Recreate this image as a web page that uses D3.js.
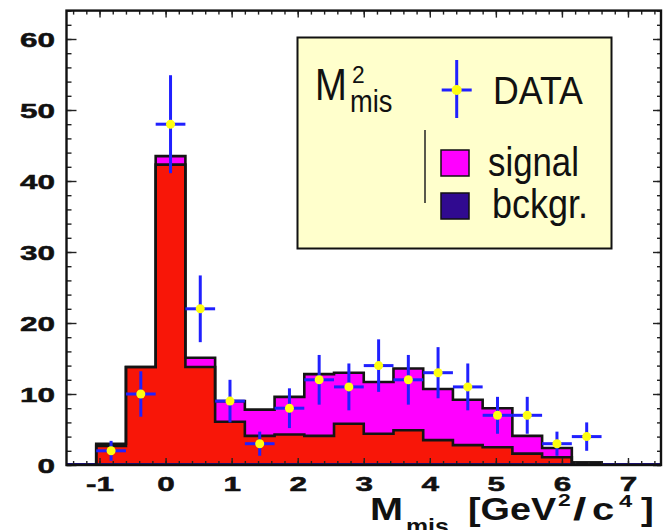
<!DOCTYPE html>
<html>
<head>
<meta charset="utf-8">
<script src="https://cdn.jsdelivr.net/npm/d3@7"></script>
<style>
  body { margin: 0; background: #fff; }
  svg { display: block; }
  text { font-family: "Liberation Sans", Arial, Helvetica, sans-serif; fill: #111; }
</style>
</head>
<body>
<div id="chart"></div>
<script>
// histogram bins (GeV^2/c^4), width 0.45
const binCenters = [-0.825, -0.375, 0.075, 0.525, 0.975, 1.425, 1.875, 2.325, 2.775,
                    3.225, 3.675, 4.125, 4.575, 5.025, 5.475, 5.925, 6.375];
const binWidth = 0.45;
// red part (drawn at the bottom of the stack)
const bkgValues = [2.7, 13.8, 42.3, 13.8, 6.1, 4.1, 4.3, 4.1, 5.8, 4.4, 4.9, 3.5, 2.8, 2.5, 1.6, 1.1, 0.35];
// magenta part on top
const signalValues = [0.3, 0, 1.2, 1.3, 2.9, 3.7, 5.3, 8.7, 7.2, 7.3, 8.7, 7.2, 6.4, 5.5, 2.5, 1.3, 0];
// data points and their errors
const dataCounts = [2, 10, 48, 22, 9, 3, 8, 12, 11, 14, 12, 13, 11, 7, 7, 3, 4];
const dataErrors = [1.4, 3.2, 6.9, 4.7, 3.0, 1.7, 2.8, 3.5, 3.3, 3.7, 3.5, 3.6, 3.3, 2.6, 2.6, 1.7, 2.0];

const xTicks = [-1, 0, 1, 2, 3, 4, 5, 6, 7];
const yTicks = [0, 10, 20, 30, 40, 50, 60];
const legendLabels = ["DATA", "signal", "bckgr."];

const width = 663, height = 530;
const svg = d3.select("#chart").append("svg")
    .attr("width", width)
    .attr("height", height)
    .attr("viewBox", [0, 0, width, height]);

const x = d3.scaleLinear().domain([-1.5, 7.5]).range([66.5, 661]);
const y = d3.scaleLinear().domain([0, 64]).range([465, 10.6]);

const rows = binCenters.map((c, i) => ({c: c, bkg: bkgValues[i], sig: signalValues[i]}));
const stack = d3.stack().keys(["bkg", "sig"]);
const layers = stack(rows);
const colors = {bkg: "#f81608", sig: "#ff00ff"};

// step points for each layer
function stepPts(layer) {
    let pts = [];
    layer.forEach(d => {
        pts.push({x: d.data.c - binWidth / 2, y0: d[0], y1: d[1]});
        pts.push({x: d.data.c + binWidth / 2, y0: d[0], y1: d[1]});
    });
    return pts;
}

const area = d3.area()
    .x(d => x(d.x))
    .y0(d => y(d.y0))
    .y1(d => y(d.y1));

svg.selectAll("path.layer")
    .data(layers)
    .join("path")
    .attr("class", "layer")
    .attr("fill", d => colors[d.key])
    .attr("d", d => area(stepPts(d)));

// navy zero line of the histogram
svg.append("line")
    .attr("x1", x(-1.5)).attr("x2", x(7.5))
    .attr("y1", y(0) - 1).attr("y2", y(0) - 1)
    .attr("stroke", "#1a1080").attr("stroke-width", 2);

// outlines
const line = d3.line().x(d => x(d[0])).y(d => y(d[1]));
function outline(layer) {
    let pts = [[layer[0].data.c - binWidth / 2, 0]];
    layer.forEach(d => {
        pts.push([d.data.c - binWidth / 2, d[1]]);
        pts.push([d.data.c + binWidth / 2, d[1]]);
    });
    pts.push([layer[layer.length - 1].data.c + binWidth / 2, 0]);
    return pts;
}
svg.selectAll("path.outline")
    .data(layers)
    .join("path")
    .attr("class", "outline")
    .attr("fill", "none")
    .attr("stroke", "#141414")
    .attr("stroke-width", 2.6)
    .attr("stroke-linejoin", "miter")
    .attr("d", d => line(outline(d)));

// axes: ticks on all four sides
function styleAxis(g) {
    g.select(".domain").remove();
    g.selectAll(".tick line").attr("stroke", "#222").attr("stroke-width", 1.4);
}
const minorX = x.ticks(45), minorY = y.ticks(32);

svg.append("g").attr("transform", `translate(0,${y(0)})`)
    .call(d3.axisBottom(x).tickValues(minorX).tickSize(-4).tickFormat(""))
    .call(styleAxis);
const xAxis = svg.append("g").attr("transform", `translate(0,${y(0)})`)
    .call(d3.axisBottom(x).tickValues(xTicks).tickSize(-7).tickPadding(11).tickFormat(d => String(d)))
    .call(styleAxis);
svg.append("g").attr("transform", `translate(0,${y(64)})`)
    .call(d3.axisTop(x).tickValues(minorX).tickSize(-4).tickFormat(""))
    .call(styleAxis);
svg.append("g").attr("transform", `translate(0,${y(64)})`)
    .call(d3.axisTop(x).tickValues(xTicks).tickSize(-7).tickFormat(""))
    .call(styleAxis);

svg.append("g").attr("transform", `translate(${x(-1.5)},0)`)
    .call(d3.axisLeft(y).tickValues(minorY).tickSize(-5).tickFormat(""))
    .call(styleAxis);
const yAxis = svg.append("g").attr("transform", `translate(${x(-1.5)},0)`)
    .call(d3.axisLeft(y).tickValues(yTicks).tickSize(-10).tickFormat(d => String(d)))
    .call(styleAxis);
svg.append("g").attr("transform", `translate(${x(7.5)},0)`)
    .call(d3.axisRight(y).tickValues(minorY).tickSize(-4).tickFormat(""))
    .call(styleAxis);
svg.append("g").attr("transform", `translate(${x(7.5)},0)`)
    .call(d3.axisRight(y).tickValues(yTicks).tickSize(-8).tickFormat(""))
    .call(styleAxis);

const labelScale = 1.5;
xAxis.selectAll(".tick text")
    .attr("font-size", 21).attr("font-weight", "bold")
    .attr("font-family", "Liberation Sans, Arial, sans-serif")
    .attr("fill", "#111").attr("stroke", "#111").attr("stroke-width", 0.5)
    .attr("transform", `scale(${labelScale},1)`);
yAxis.selectAll(".tick text")
    .attr("font-size", 21).attr("font-weight", "bold")
    .attr("font-family", "Liberation Sans, Arial, sans-serif")
    .attr("fill", "#111").attr("stroke", "#111").attr("stroke-width", 0.5)
    .attr("x", -11.5 / labelScale)
    .attr("dy", "0.36em")
    .attr("transform", `scale(${labelScale},1)`);

// frame
svg.append("rect")
    .attr("x", x(-1.5)).attr("y", y(64))
    .attr("width", x(7.5) - x(-1.5)).attr("height", y(0) - y(64))
    .attr("fill", "none").attr("stroke", "#111").attr("stroke-width", 2.4);

// data points with error bars
const pts = svg.append("g").selectAll("g")
    .data(binCenters.map((c, i) => ({c: c, v: dataCounts[i], e: dataErrors[i]})))
    .join("g");
pts.append("line")
    .attr("x1", d => x(d.c - binWidth / 2)).attr("x2", d => x(d.c + binWidth / 2))
    .attr("y1", d => y(d.v)).attr("y2", d => y(d.v))
    .attr("stroke", "#2020ff").attr("stroke-width", 3);
pts.append("line")
    .attr("x1", d => x(d.c)).attr("x2", d => x(d.c))
    .attr("y1", d => y(d.v - d.e)).attr("y2", d => y(d.v + d.e))
    .attr("stroke", "#2020ff").attr("stroke-width", 3);
pts.append("circle")
    .attr("cx", d => x(d.c)).attr("cy", d => y(d.v))
    .attr("r", 4.5).attr("fill", "#ffff10");

// x axis title, pieces placed one by one
const titleParts = [
    {t: "M", x: 370, y: 520, s: 32, k: 1.24},
    {t: "mis", x: 406, y: 534, s: 22, k: 1.13},
    {t: "[GeV", x: 468, y: 520, s: 32, k: 1.18},
    {t: "2", x: 558, y: 506, s: 17, k: 1.35},
    {t: "/", x: 573, y: 520, s: 32, k: 1.5},
    {t: "c", x: 592, y: 520, s: 32, k: 1.25},
    {t: "4", x: 619, y: 507, s: 17, k: 1.4},
    {t: "]", x: 641, y: 520, s: 32, k: 1.2}
];
svg.append("g").selectAll("text")
    .data(titleParts)
    .join("text")
    .attr("transform", d => `translate(${d.x},${d.y}) scale(${d.k},1)`)
    .attr("font-size", d => d.s)
    .attr("font-weight", "bold")
    .text(d => d.t);

// legend
const leg = svg.append("g");
leg.append("rect")
    .attr("x", 297.5).attr("y", 37.5).attr("width", 314).attr("height", 211)
    .attr("fill", "#ffffcc").attr("stroke", "#111").attr("stroke-width", 2);

const legTexts = [
    {t: "M", x: 315, y: 100, s: 45, k: 0.85},
    {t: "2", x: 352, y: 83, s: 24, k: 0.95},
    {t: "mis", x: 350, y: 112, s: 31, k: 0.88},
    {t: legendLabels[0], x: 493, y: 104, s: 38, k: 0.94},
    {t: legendLabels[1], x: 488, y: 176, s: 40, k: 0.87},
    {t: legendLabels[2], x: 492, y: 218, s: 40, k: 0.9}
];
leg.selectAll("text")
    .data(legTexts)
    .join("text")
    .attr("transform", d => `translate(${d.x},${d.y}) scale(${d.k},1)`)
    .attr("font-size", d => d.s)
    .text(d => d.t);

leg.append("line").attr("x1", 456.7).attr("x2", 456.7).attr("y1", 60).attr("y2", 118)
    .attr("stroke", "#2020ff").attr("stroke-width", 3);
leg.append("line").attr("x1", 441.7).attr("x2", 471.7).attr("y1", 90).attr("y2", 90)
    .attr("stroke", "#2020ff").attr("stroke-width", 3);
leg.append("circle").attr("cx", 456.7).attr("cy", 90).attr("r", 5).attr("fill", "#ffff10");

leg.append("line").attr("x1", 425).attr("x2", 425).attr("y1", 130).attr("y2", 203)
    .attr("stroke", "#222").attr("stroke-width", 1.5);
leg.append("rect").attr("x", 441).attr("y", 150).attr("width", 28).attr("height", 26)
    .attr("fill", colors.sig).attr("stroke", "#111").attr("stroke-width", 1.5);
leg.append("rect").attr("x", 441).attr("y", 193).attr("width", 28).attr("height", 26)
    .attr("fill", "#300a90").attr("stroke", "#111").attr("stroke-width", 1.5);
</script>
</body>
</html>
